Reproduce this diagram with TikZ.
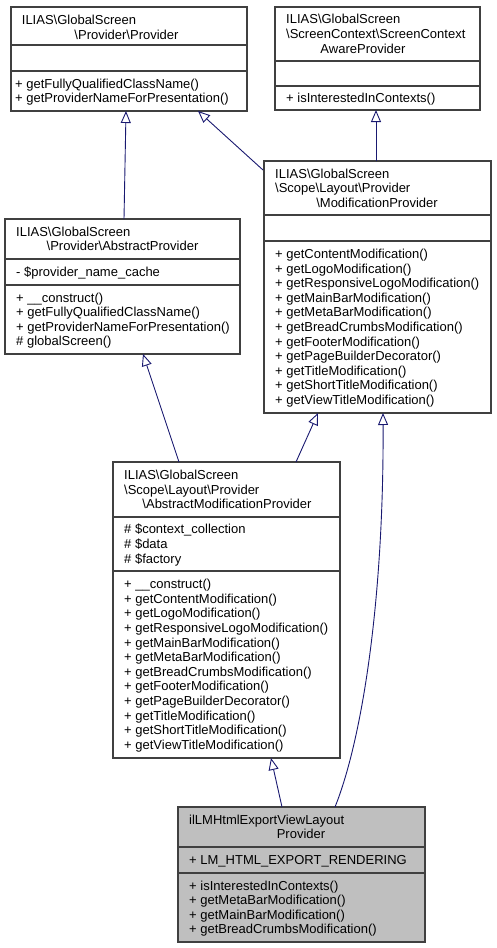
\documentclass[tikz,border=0pt]{standalone}
\usepackage{fontspec}
\setmainfont{Liberation Sans}
\usetikzlibrary{arrows.meta}

\definecolor{edgeblue}{HTML}{191970}
\definecolor{framegray}{HTML}{404040}
\definecolor{rootgray}{HTML}{BFBFBF}

\tikzset{
  classframe/.style={draw=framegray, line width=1.1pt},
  member/.style={anchor=base west, inner sep=0pt, font=\fontsize{13}{14.6}\selectfont},
  titlemid/.style={member, anchor=base},
  inherit/.style={draw=edgeblue, line width=0.9pt, -{Triangle[open, length=12pt, width=10pt]}}
}

\begin{document}
\begin{tikzpicture}[x=1pt, y=-1pt]
\useasboundingbox (0,0) rectangle (496,948);

% Provider
\draw[classframe] (11,7) rectangle (247,111);
\draw[classframe] (11,45) -- (247,45) (11,71) -- (247,71);
\node[member] (prov-t1) at (21.7,24) {ILIAS\textbackslash GlobalScreen};
\node[titlemid] (prov-t2) at (126.5,39) {\textbackslash Provider\textbackslash Provider};
\foreach \m [count=\i from 0] in {getFullyQualifiedClassName(), getProviderNameForPresentation()}
  \node[member] (prov-m\i) at (15, 88.2+14.6*\i) {+ \m};
\coordinate (prov-in1) at (126,111);
\coordinate (prov-in2) at (198,111);

% ScreenContextAwareProvider
\draw[classframe] (275,7) rectangle (480,110);
\draw[classframe] (275,61) -- (480,61) (275,86) -- (480,86);
\node[member] (scap-t1) at (286,23.9) {ILIAS\textbackslash GlobalScreen};
\node[member] (scap-t2) at (286,38.5) {\textbackslash ScreenContext\textbackslash ScreenContext};
\node[titlemid] (scap-t3) at (363,53.1) {AwareProvider};
\node[member] (scap-m0) at (286,102.5) {+ isInterestedInContexts()};
\coordinate (scap-in1) at (376,110);

% ModificationProvider
\draw[classframe] (264,161) rectangle (491,413);
\draw[classframe] (264,215) -- (491,215) (264,241) -- (491,241);
\node[member] (modprov-t1) at (275,178) {ILIAS\textbackslash GlobalScreen};
\node[member] (modprov-t2) at (275,192.5) {\textbackslash Scope\textbackslash Layout\textbackslash Provider};
\node[titlemid] (modprov-t3) at (377,207) {\textbackslash ModificationProvider};
\foreach \m [count=\i from 0] in {getContentModification(), getLogoModification(),
    getResponsiveLogoModification(), getMainBarModification(), getMetaBarModification(),
    getBreadCrumbsModification(), getFooterModification(), getPageBuilderDecorator(),
    getTitleModification(), getShortTitleModification(), getViewTitleModification()}
  \node[member] (modprov-m\i) at (275, 258.5+14.6*\i) {+ \m};
\coordinate (modprov-out1) at (263,170);
\coordinate (modprov-out2) at (376,161);
\coordinate (modprov-in1) at (318,413);
\coordinate (modprov-in2) at (383,413);

% AbstractProvider
\draw[classframe] (5,219) rectangle (240,354);
\draw[classframe] (5,259) -- (240,259) (5,285) -- (240,285);
\node[member] (absprov-t1) at (16,236.2) {ILIAS\textbackslash GlobalScreen};
\node[titlemid] (absprov-t2) at (122.5,250.8) {\textbackslash Provider\textbackslash AbstractProvider};
\node[member] (absprov-a0) at (16,276.5) {- \$provider\_name\_cache};
\foreach \m [count=\i from 0] in {+ \_\_construct(), + getFullyQualifiedClassName(),
    + getProviderNameForPresentation(), \# globalScreen()}
  \node[member] (absprov-m\i) at (16, 302.1+14.6*\i) {\m};
\coordinate (absprov-out1) at (124,219);
\coordinate (absprov-in1) at (143,354);

% AbstractModificationProvider
\draw[classframe] (113,462) rectangle (340,758);
\draw[classframe] (113,517) -- (340,517) (113,571) -- (340,571);
\node[member] (absmod-t1) at (124,479.4) {ILIAS\textbackslash GlobalScreen};
\node[member] (absmod-t2) at (124,494) {\textbackslash Scope\textbackslash Layout\textbackslash Provider};
\node[titlemid] (absmod-t3) at (227,508.6) {\textbackslash AbstractModificationProvider};
\foreach \a [count=\i from 0] in {\$context\_collection, \$data, \$factory}
  \node[member] (absmod-a\i) at (124, 533.9+14.6*\i) {\# \a};
\foreach \m [count=\i from 0] in {\_\_construct(), getContentModification(), getLogoModification(),
    getResponsiveLogoModification(), getMainBarModification(), getMetaBarModification(),
    getBreadCrumbsModification(), getFooterModification(), getPageBuilderDecorator(),
    getTitleModification(), getShortTitleModification(), getViewTitleModification()}
  \node[member] (absmod-m\i) at (124, 588.7+14.6*\i) {+ \m};
\coordinate (absmod-out1) at (179,462);
\coordinate (absmod-out2) at (296,462);
\coordinate (absmod-in1) at (271,758);

% ilLMHtmlExportViewLayoutProvider
\draw[classframe, fill=rootgray] (178,807) rectangle (425,942);
\draw[classframe] (178,847) -- (425,847) (178,873) -- (425,873);
\node[member] (html-t1) at (189,824.2) {ilLMHtmlExportViewLayout};
\node[titlemid] (html-t2) at (301,838.8) {Provider};
\node[member] (html-a0) at (189,864.5) {+ LM\_HTML\_EXPORT\_RENDERING};
\foreach \m [count=\i from 0] in {isInterestedInContexts(), getMetaBarModification(),
    getMainBarModification(), getBreadCrumbsModification()}
  \node[member] (html-m\i) at (189, 890.1+14.6*\i) {+ \m};
\coordinate (html-out1) at (282,807);
\coordinate (html-out2) at (335,807);

% inheritance
\draw[inherit] (absprov-out1) -- (prov-in1);
\draw[inherit] (modprov-out1) -- (prov-in2);
\draw[inherit] (modprov-out2) -- (scap-in1);
\draw[inherit] (absmod-out1) -- (absprov-in1);
\draw[inherit] (absmod-out2) -- (modprov-in1);
\draw[inherit] (html-out1) -- (absmod-in1);
\draw[inherit] (html-out2) .. controls (362,740) and (384,600) .. (modprov-in2);

\end{tikzpicture}
\end{document}
